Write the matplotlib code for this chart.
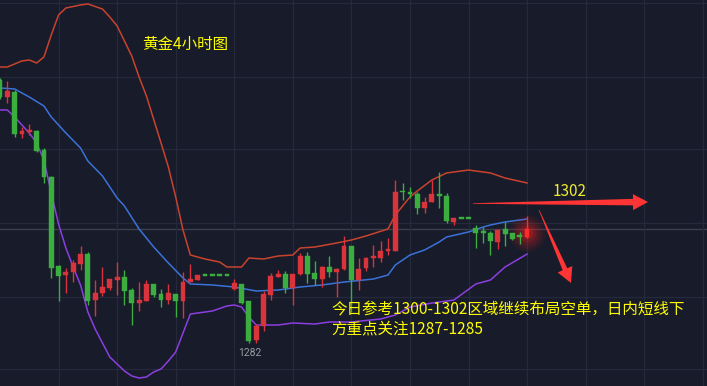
import matplotlib
matplotlib.use('Agg')
import matplotlib.pyplot as plt
from matplotlib.patches import Polygon
import numpy as np

# ---------------- data (gold 4H candles) ----------------
opens = [1319.57, 1317.14, 1317.86, 1311.86, 1312.14, 1312.29, 1309.57, 1305.71, 1293.00, 1291.71,
         1292.14, 1293.29, 1294.71, 1288.14, 1289.14, 1289.86, 1291.00, 1291.43, 1289.57, 1287.71,
         1288.00, 1290.43, 1289.00, 1288.14, 1289.00, 1288.00, 1290.71, 1291.00, 1291.71, 1291.71,
         1291.71, 1291.71, 1289.71, 1290.43, 1288.00, 1282.43, 1284.43, 1288.86, 1291.43, 1291.86,
         1289.86, 1291.86, 1294.43, 1292.00, 1291.14, 1292.86, 1292.14, 1292.57, 1295.86, 1291.00,
         1292.71, 1294.14, 1294.14, 1295.14, 1295.14, 1303.71, 1303.57, 1303.29, 1301.29, 1302.14,
         1303.29, 1303.00, 1299.29, 1299.86, 1299.86, 1298.43, 1298.00, 1297.71, 1296.43, 1298.29,
         1297.71, 1297.43, 1297.14]
highs = [1319.86, 1319.43, 1318.14, 1312.86, 1313.29, 1312.43, 1309.86, 1305.90, 1293.14, 1292.71,
         1293.86, 1295.86, 1295.00, 1291.00, 1292.86, 1291.14, 1293.57, 1292.43, 1289.86, 1290.71,
         1291.00, 1290.43, 1289.71, 1290.43, 1289.00, 1292.14, 1293.29, 1291.71, 1291.71, 1291.71,
         1291.71, 1291.71, 1291.14, 1290.43, 1288.00, 1284.71, 1289.43, 1292.00, 1292.43, 1292.29,
         1291.86, 1294.86, 1295.00, 1293.71, 1293.00, 1294.43, 1292.71, 1297.29, 1295.86, 1294.14,
         1294.29, 1296.00, 1296.57, 1297.00, 1305.29, 1304.86, 1304.29, 1303.57, 1302.86, 1305.29,
         1306.43, 1303.43, 1299.86, 1299.86, 1299.86, 1298.86, 1298.57, 1298.00, 1298.29, 1299.29,
         1297.71, 1297.86, 1300.14]
lows = [1316.86, 1316.29, 1311.43, 1311.29, 1311.71, 1309.29, 1304.86, 1291.29, 1288.00, 1289.14,
        1290.71, 1292.43, 1287.43, 1285.86, 1288.71, 1289.57, 1288.86, 1287.43, 1284.57, 1286.57,
        1288.00, 1288.57, 1287.14, 1287.57, 1285.71, 1285.57, 1290.71, 1291.00, 1291.71, 1291.71,
        1291.71, 1291.71, 1289.57, 1287.57, 1282.00, 1282.00, 1283.71, 1288.14, 1291.43, 1289.14,
        1287.43, 1291.71, 1290.57, 1290.29, 1290.00, 1291.43, 1288.57, 1292.43, 1286.43, 1289.57,
        1292.29, 1292.86, 1293.57, 1294.57, 1295.14, 1302.43, 1302.71, 1300.43, 1300.57, 1302.14,
        1301.29, 1299.14, 1298.86, 1299.86, 1299.86, 1295.57, 1296.29, 1294.57, 1295.43, 1295.86,
        1296.71, 1296.14, 1297.00]
closes = [1317.14, 1318.00, 1311.86, 1312.29, 1312.43, 1309.43, 1305.71, 1292.71, 1291.57, 1292.14,
          1293.43, 1294.71, 1288.00, 1289.14, 1290.00, 1291.14, 1291.43, 1289.43, 1287.71, 1288.14,
          1290.43, 1288.86, 1288.14, 1289.14, 1288.00, 1290.71, 1291.14, 1291.71, 1291.71, 1291.71,
          1291.71, 1291.71, 1290.57, 1287.71, 1282.29, 1284.43, 1289.00, 1291.57, 1291.86, 1289.86,
          1291.86, 1294.43, 1291.86, 1291.14, 1292.86, 1292.14, 1292.57, 1295.86, 1291.00, 1292.57,
          1294.14, 1294.43, 1295.14, 1295.43, 1303.57, 1303.57, 1303.29, 1301.29, 1302.14, 1303.29,
          1303.00, 1299.43, 1299.86, 1299.86, 1299.86, 1297.71, 1297.71, 1296.57, 1298.14, 1297.57,
          1296.86, 1297.14, 1298.29]

upper_idx = [0, 1, 2, 3, 4, 5, 6, 7, 8, 9, 11, 12, 14, 15, 16, 18, 19, 20, 22, 23, 24, 25, 26, 28, 30,
             31, 33, 34, 36, 38, 40, 41, 43, 46, 48, 50, 53, 54, 56, 57, 59, 61, 64, 67, 69, 72]
upper_val = [1321.43, 1321.43, 1321.86, 1322.29, 1322.43, 1322.00, 1322.86, 1326.00, 1328.86, 1329.86,
             1330.29, 1330.43, 1329.71, 1328.57, 1327.29, 1323.00, 1320.00, 1317.29, 1310.57, 1307.14,
             1302.86, 1298.14, 1294.57, 1294.00, 1293.57, 1292.86, 1292.86, 1294.14, 1294.00, 1294.43,
             1294.57, 1295.57, 1295.71, 1296.29, 1296.71, 1297.29, 1298.29, 1300.29, 1302.86, 1303.71,
             1305.29, 1306.29, 1306.71, 1306.29, 1305.57, 1304.86]
mid_idx = [0, 2, 4, 6, 7, 9, 11, 12, 14, 15, 16, 17, 19, 21, 23, 25, 26, 29, 32, 35, 38, 41, 44, 47,
           51, 53, 54, 56, 58, 60, 61, 64, 66, 67, 69, 72]
mid_val = [1318.43, 1318.29, 1317.14, 1315.86, 1314.29, 1312.00, 1309.86, 1308.00, 1305.86, 1304.29,
           1302.71, 1301.57, 1298.29, 1295.71, 1293.43, 1291.29, 1290.43, 1290.29, 1290.00, 1289.43,
           1289.57, 1290.00, 1290.29, 1290.71, 1291.14, 1291.71, 1293.14, 1294.57, 1295.29, 1296.43,
           1297.14, 1297.86, 1298.57, 1298.86, 1299.29, 1299.71]
lower_idx = [0, 1, 2, 3, 4, 5, 6, 7, 8, 9, 10, 11, 12, 13, 15, 17, 18, 19, 20, 21, 22, 23, 24, 25, 26,
             29, 31, 32, 33, 34, 35, 38, 40, 43, 45, 48, 52, 54, 56, 59, 62, 65, 67, 69, 72]
lower_val = [1315.29, 1315.29, 1314.29, 1313.14, 1312.00, 1310.57, 1308.14, 1303.43, 1299.00, 1295.57,
             1292.86, 1290.29, 1286.43, 1284.00, 1280.00, 1278.00, 1277.29, 1277.00, 1277.14, 1277.86,
             1278.29, 1279.43, 1280.71, 1283.43, 1286.14, 1286.57, 1287.29, 1287.43, 1287.14, 1285.71,
             1284.57, 1284.57, 1284.86, 1284.71, 1285.00, 1285.00, 1285.43, 1286.00, 1287.14, 1287.71,
             1288.14, 1290.43, 1291.00, 1292.86, 1294.71]

title_text = "黄金4小时图"
level_text = "1302"
low_text = "1282"
note_line1 = "今日参考1300-1302区域继续布局空单，日内短线下"
note_line2 = "方重点关注1287-1285"
grid_prices = [1330.57, 1320.00, 1309.71, 1299.14, 1288.57, 1278.29]

# ---------------- style ----------------
BG = '#171b2a'
GRID = '#252a3a'
UP = '#d9343b'
DOWN = '#3cae3f'
C_UP = '#c9432e'
C_MID = '#3a72d8'
C_LOW = '#8b3fe0'
YEL = '#ffff00'

plt.rcParams['font.family'] = ['Noto Sans CJK SC', 'DejaVu Sans']

fig = plt.figure(figsize=(7.07, 3.86), dpi=100, facecolor=BG)
ax = fig.add_axes([0, 0, 1, 1])
ax.set_facecolor(BG)
ax.set_xlim(0, 96.58)
ax.set_ylim(1275.857, 1331.0)
for s in ax.spines.values():
    s.set_visible(False)
ax.set_xticks(np.arange(8, 97, 8))
ax.set_yticks(grid_prices)
ax.tick_params(length=0, labelbottom=False, labelleft=False)
ax.grid(True, color=GRID, linewidth=0.9, zorder=0)

# crosshair at last close
ax.axhline(closes[-1], color='#3b3f4e', linewidth=1.0, zorder=1)

# bands
ax.plot(upper_idx, upper_val, color=C_UP, lw=1.1, zorder=2)
ax.plot(mid_idx, mid_val, color=C_MID, lw=1.1, zorder=2)
ax.plot(lower_idx, lower_val, color=C_LOW, lw=1.1, zorder=2)

# glow around the last candle
n = len(opens)
gx = n - 1
gy = (opens[-1] + closes[-1]) / 2
for s_, a_ in [(700, 0.07), (480, 0.09), (300, 0.12), (160, 0.16), (70, 0.22)]:
    ax.scatter([gx], [gy], s=s_, color='#ff1e1e', alpha=a_, linewidths=0, zorder=3)

# candles
w = 0.66
min_h = 0.22
for i in range(n):
    o, h, l, c = opens[i], highs[i], lows[i], closes[i]
    col = UP if c > o else DOWN
    if i == n - 1:
        col = '#ff2b2b'
    ax.vlines(i, l, h, color=col, linewidth=1.0, zorder=4)
    bot = min(o, c)
    hgt = abs(c - o)
    if hgt < min_h:
        bot = (o + c) / 2 - min_h / 2
        hgt = min_h
    ax.bar(i, hgt, bottom=bot, width=w, color=col, edgecolor=col, linewidth=0.3, zorder=5)

# ---------------- overlay in pixel coordinates for annotations ----------------
ov = fig.add_axes([0, 0, 1, 1])
ov.set_xlim(0, 707)
ov.set_ylim(386, 0)
ov.axis('off')
ov.patch.set_alpha(0)


def arrow_poly(S, T, head_len, head_w, shaft_w, tail_w=0.6):
    S = np.array(S, float)
    T = np.array(T, float)
    d = T - S
    L = np.hypot(*d)
    u = d / L
    p = np.array([-u[1], u[0]])
    B = T - u * head_len
    pts = [S + p * tail_w / 2, B + p * shaft_w / 2, B + p * head_w / 2, T,
           B - p * head_w / 2, B - p * shaft_w / 2, S - p * tail_w / 2]
    return pts


ARROW = '#ff3434'
ov.add_patch(Polygon(arrow_poly((473, 203.5), (648, 202), 15, 16, 6.5), closed=True,
                     facecolor=ARROW, edgecolor='none', zorder=6))
ov.add_patch(Polygon(arrow_poly((539, 210), (571, 283), 15, 16, 5), closed=True,
                     facecolor=ARROW, edgecolor='none', zorder=6))

ov.text(142, 44, title_text, color=YEL, fontsize=11.2, ha='left', va='center', zorder=7)
ov.text(570, 192, level_text, color='#ecec30', fontsize=11, ha='center', va='center', zorder=7)
ov.text(250, 353, low_text, color='#9a9ca4', fontsize=7.5, ha='center', va='center',
        family=['Roboto', 'DejaVu Sans'], zorder=7)
ov.text(331, 310, note_line1, color=YEL, fontsize=11.2, ha='left', va='center', zorder=7)
ov.text(331, 329, note_line2, color=YEL, fontsize=11.2, ha='left', va='center', zorder=7)

fig.savefig('out.png', dpi=100, facecolor=BG)
